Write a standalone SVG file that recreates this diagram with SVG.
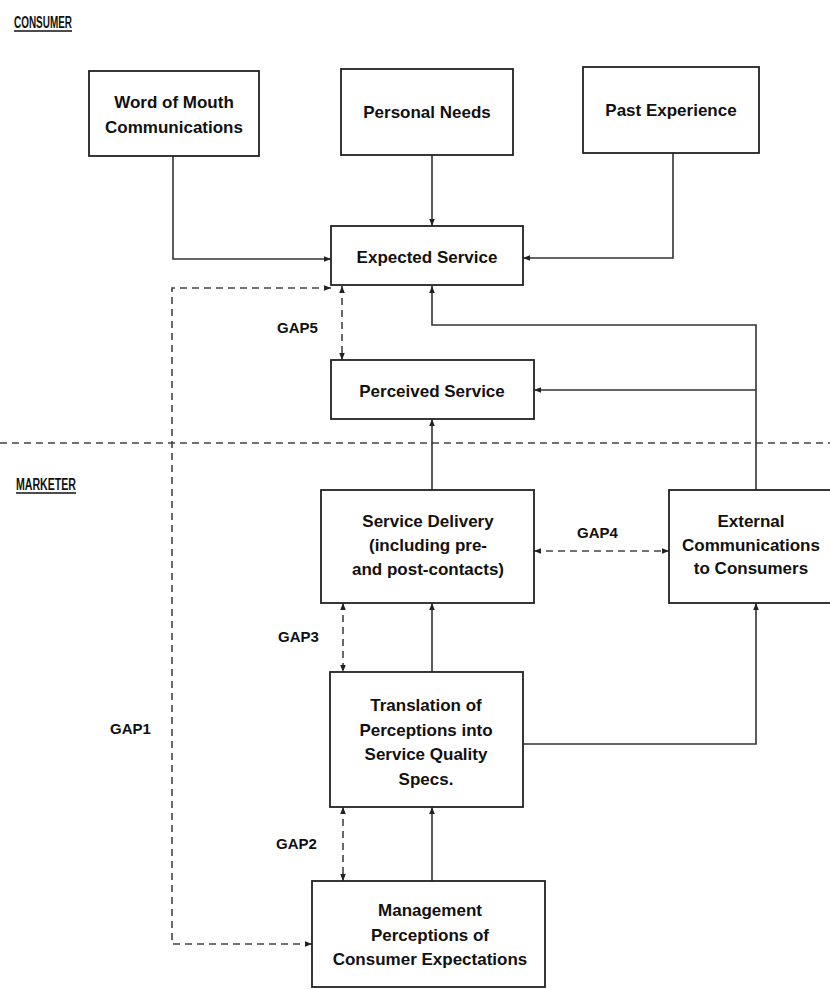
<svg xmlns="http://www.w3.org/2000/svg" width="830" height="989" viewBox="0 0 830 989">
<defs>
<marker id="ah" viewBox="0 0 10 10" refX="10" refY="5" markerWidth="7" markerHeight="7" orient="auto-start-reverse" markerUnits="userSpaceOnUse">
<path d="M0,1 L10,5 L0,9 z" fill="#222"/>
</marker>
<style>
.box{fill:#fff;stroke:#222;stroke-width:1.8}
.t{font-family:"Liberation Sans",Arial,sans-serif;font-size:17px;fill:#111;text-anchor:middle;font-weight:bold}
.lbl{font-family:"Liberation Sans",Arial,sans-serif;font-size:15px;fill:#111;font-weight:bold}
.hd{font-family:"Liberation Sans",Arial,sans-serif;font-size:16px;fill:#111;font-weight:bold}
.c{fill:none;stroke:#333;stroke-width:1.6}
.d{fill:none;stroke:#444;stroke-width:1.6;stroke-dasharray:7 5}
</style>
</defs>
<rect width="830" height="989" fill="#fff"/>
<text class="hd" x="14" y="28" textLength="58" lengthAdjust="spacingAndGlyphs">CONSUMER</text>
<line x1="14" y1="31" x2="72" y2="31" stroke="#111" stroke-width="1.5"/>
<text class="hd" x="16" y="490" textLength="60" lengthAdjust="spacingAndGlyphs">MARKETER</text>
<line x1="16" y1="493" x2="76" y2="493" stroke="#111" stroke-width="1.5"/>
<line x1="0" y1="443" x2="830" y2="443" class="d"/>

<g id="connectors">
<path class="c" d="M173,156 V259 H331" marker-end="url(#ah)"/>
<path class="c" d="M432,155 V226" marker-end="url(#ah)"/>
<path class="c" d="M673,153 V258 H523" marker-end="url(#ah)"/>
<path class="c" d="M756,490 V325 H432 V286" marker-end="url(#ah)"/>
<path class="c" d="M756,390 H534" stroke-width="2.4" marker-end="url(#ah)"/>
<path class="c" d="M432,490 V419" marker-end="url(#ah)"/>
<path class="c" d="M432,672 V603" marker-end="url(#ah)"/>
<path class="c" d="M522,744 H756 V603" marker-end="url(#ah)"/>
<path class="c" d="M432,881 V807" marker-end="url(#ah)"/>
<path class="d" d="M331,288 H172 V944 H312" marker-start="url(#ah)" marker-end="url(#ah)"/>
<path class="d" d="M342,286 V360" marker-start="url(#ah)" marker-end="url(#ah)"/>
<path class="d" d="M534,551 H669" marker-start="url(#ah)" marker-end="url(#ah)"/>
<path class="d" d="M343,603 V672" marker-start="url(#ah)" marker-end="url(#ah)"/>
<path class="d" d="M343,807 V881" marker-start="url(#ah)" marker-end="url(#ah)"/>
<text class="lbl" x="277" y="333">GAP5</text>
<text class="lbl" x="577" y="538">GAP4</text>
<text class="lbl" x="278" y="642">GAP3</text>
<text class="lbl" x="276" y="849">GAP2</text>
<text class="lbl" x="110" y="734">GAP1</text>
</g>

<g id="word-of-mouth">
<rect class="box" x="89" y="71" width="170" height="85"/>
<text class="t" x="174" y="108">Word of Mouth</text>
<text class="t" x="174" y="133">Communications</text>
</g>
<g id="personal-needs">
<rect class="box" x="341" y="69" width="172" height="86"/>
<text class="t" x="427" y="118">Personal Needs</text>
</g>
<g id="past-experience">
<rect class="box" x="583" y="67" width="176" height="86"/>
<text class="t" x="671" y="116">Past Experience</text>
</g>
<g id="expected-service">
<rect class="box" x="331" y="226" width="192" height="59"/>
<text class="t" x="427" y="263">Expected Service</text>
</g>
<g id="perceived-service">
<rect class="box" x="331" y="360" width="203" height="59"/>
<text class="t" x="432" y="397">Perceived Service</text>
</g>
<g id="service-delivery">
<rect class="box" x="321" y="490" width="213" height="113"/>
<text class="t" x="428" y="527">Service Delivery</text>
<text class="t" x="428" y="551">(including pre-</text>
<text class="t" x="428" y="575">and post-contacts)</text>
</g>
<g id="external-communications">
<rect class="box" x="669" y="490" width="170" height="113"/>
<text class="t" x="751" y="527">External</text>
<text class="t" x="751" y="551">Communications</text>
<text class="t" x="751" y="574">to Consumers</text>
</g>
<g id="translation">
<rect class="box" x="330" y="672" width="193" height="135"/>
<text class="t" x="426" y="711">Translation of</text>
<text class="t" x="426" y="736">Perceptions into</text>
<text class="t" x="426" y="760">Service Quality</text>
<text class="t" x="426" y="785">Specs.</text>
</g>
<g id="management">
<rect class="box" x="312" y="881" width="233" height="106"/>
<text class="t" x="430" y="916">Management</text>
<text class="t" x="430" y="941">Perceptions of</text>
<text class="t" x="430" y="965">Consumer Expectations</text>
</g>
</svg>
